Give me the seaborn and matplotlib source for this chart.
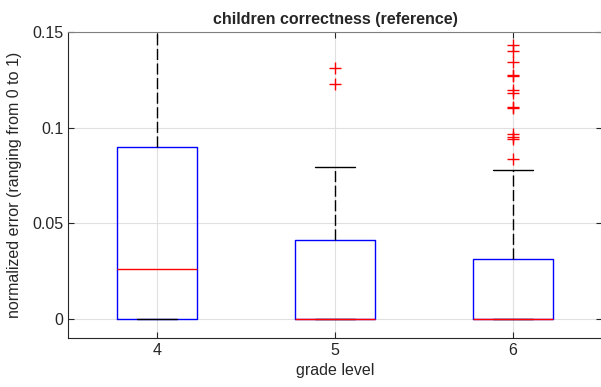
import numpy as np
import pandas as pd
import matplotlib
matplotlib.use("Agg")
import matplotlib.pyplot as plt
import seaborn as sns

# grade levels shown on the x axis
grades = [4, 5, 6]

# values (zeros repeated so that the quartiles come out right)
grade4_values = [0.0, 0.0, 0.026, 0.090, 0.200]
grade5_zero_count = 7
grade5_q3 = [0.041, 0.041, 0.041]
grade5_upper = [0.0795]
grade5_outliers = [0.123, 0.131]
grade6_zero_count = 29
grade6_q3 = [0.0315] * 14
grade6_upper = [0.078]
grade6_outliers = [0.0835, 0.0941, 0.0953, 0.0967, 0.1101, 0.1110, 0.1183,
                   0.1197, 0.1270, 0.1275, 0.1345, 0.1402, 0.1432]

yticks = [0, 0.05, 0.1, 0.15]
ytick_labels = ["0", "0.05", "0.1", "0.15"]

values = {
    4: grade4_values,
    5: [0.0] * grade5_zero_count + grade5_q3 + grade5_upper + grade5_outliers,
    6: [0.0] * grade6_zero_count + grade6_q3 + grade6_upper + grade6_outliers,
}
df = pd.DataFrame(
    [(g, v) for g in grades for v in values[g]], columns=["grade", "error"]
)

sns.set_theme(style="ticks")
plt.rcParams["font.family"] = ["Liberation Sans", "DejaVu Sans"]

fig = plt.figure(figsize=(6.01, 3.87), dpi=100)
ax = fig.add_axes([68 / 601, 1 - 338 / 387, 534 / 601, 306 / 387])

box_width = 0.45
sns.boxplot(
    data=df, x="grade", y="error", order=grades, ax=ax,
    width=box_width, fill=False, whis=1.5, color="#0000ff", saturation=1,
    linewidth=1.0,
    whiskerprops=dict(linestyle=(0, (8, 2.5))),
    flierprops=dict(marker="+", markersize=8, markeredgewidth=1.0),
)

# MATLAB-like colours: blue box, red median, black dashed whiskers, red fliers
for line in ax.lines:
    xs = np.asarray(line.get_xdata(), dtype=float)
    if line.get_marker() == "+":
        line.set_markeredgecolor("#ff0000")
        line.set_color("#ff0000")
    elif len(xs) > 2:
        line.set_color("#0000ff")
    elif len(xs) == 2 and xs[0] == xs[1]:
        line.set_color("black")
        line.set_linestyle((0, (8, 2.5)))
    elif len(xs) == 2 and abs(abs(xs[1] - xs[0]) - box_width) < 1e-6:
        line.set_color("#ff0000")
    elif len(xs) == 2:
        line.set_color("black")

ax.set_xlim(-0.5, 2.5)
ax.set_ylim(-0.01, 0.15)
ax.set_yticks(yticks)
ax.set_yticklabels(ytick_labels)
ax.set_xticks(range(len(grades)))
ax.set_xticklabels([str(g) for g in grades])

ax.grid(True, color="#e0e0e0", linewidth=0.8)
ax.set_axisbelow(True)
ax.tick_params(direction="in", length=4, width=0.8, colors="#262626",
               labelsize=11.5, top=True, right=True)
for s in ["left", "bottom"]:
    ax.spines[s].set_color("#262626")
    ax.spines[s].set_linewidth(0.8)
ax.spines["right"].set_visible(False)
ax.spines["top"].set_color("#808080")
ax.spines["top"].set_linewidth(0.8)

ax.set_xlabel("grade level", fontsize=11.5, color="#262626", labelpad=4)
ax.set_ylabel("normalized error (ranging from 0 to 1)", fontsize=11.5,
              color="#262626", labelpad=7)
ax.set_title("children correctness (reference)", fontsize=11.5, fontweight="bold",
             pad=6)

fig.savefig("out.png", dpi=100)
